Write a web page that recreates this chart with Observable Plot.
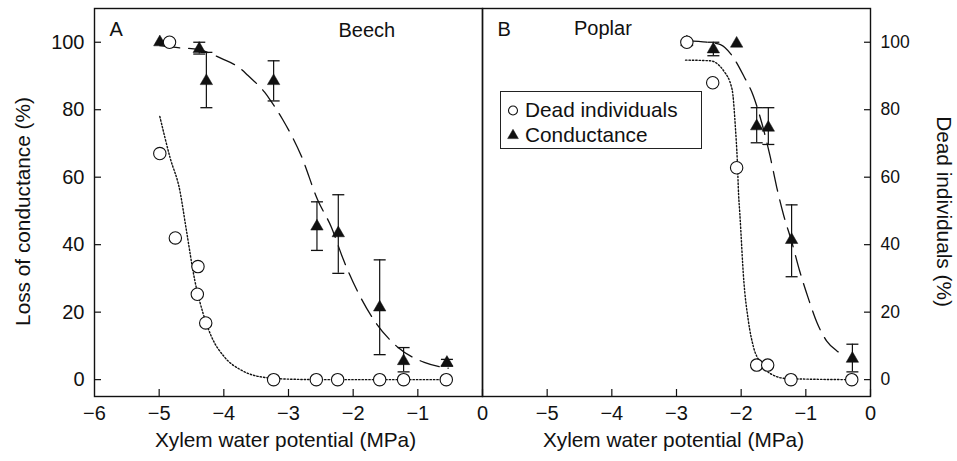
<!DOCTYPE html>
<html>
<head>
<meta charset="utf-8">
<script src="https://cdn.jsdelivr.net/npm/d3@7"></script>
<script src="https://cdn.jsdelivr.net/npm/@observablehq/plot@0.6"></script>
<style>
  body { margin: 0; background: #fff; }
  #wrap { position: relative; width: 957px; height: 461px; font-family: "Liberation Sans", Arial, Helvetica, sans-serif; }
  #legend { position: absolute; left: 500px; top: 91px; width: 202px; height: 58px; border: 1.3px solid #222; background: #fff; box-sizing: border-box; }
  #legend svg { display: block; }
</style>
</head>
<body>
<div id="wrap"></div>
<script>
// ---------- data ----------
const panels = ["A", "B"];
const species = ["Beech", "Poplar"];
const xTickValues = [-5, -4, -3, -2, -1, 0];
const xTickLabelsA = [-6, -5, -4, -3, -2, -1, 0];
const xTickLabelsB = [-5, -4, -3, -2, -1, 0];
const yTickValues = [0, 20, 40, 60, 80, 100];
const legendLabels = ["Dead individuals", "Conductance"];
const xTitle = "Xylem water potential (MPa)";
const yTitleLeft = "Loss of conductance (%)";
const yTitleRight = "Dead individuals (%)";

// Beech (panel A) – loss of conductance, mean with error bars
const beechCondX  = [-4.99, -4.38, -4.27, -3.23, -2.56, -2.23, -1.59, -1.22, -0.55];
const beechCondY  = [100, 98, 88.5, 88.5, 45.4, 43.4, 21.4, 5.5, 5];
const beechCondLo = [null, 96.5, 80.6, 82.6, 38.3, 31.5, 7.4, 2.3, 4];
const beechCondHi = [null, 100, 97, 94.5, 52.7, 54.8, 35.5, 9.5, 6];
// Beech – dead individuals
const beechDeadX = [-4.84, -4.99, -4.75, -4.40, -4.41, -4.28, -3.23, -2.57, -2.24, -1.59, -1.22, -0.56];
const beechDeadY = [100, 67, 42, 33.5, 25.3, 16.8, 0, 0, 0, 0, 0, 0];
// Beech – fitted curves
const beechCondCurveX = [-4.99, -4.66, -4.40, -4.19, -4.04, -3.73, -3.63, -3.37, -3.29, -3.09, -2.80, -2.55, -2.34, -2.15, -1.92, -1.68, -1.31, -0.90, -0.53];
const beechCondCurveY = [99, 98.3, 97.9, 96.5, 95.2, 92, 90.2, 85.2, 83.1, 77.1, 66.2, 53.3, 45.3, 35.5, 25.7, 17.7, 9.6, 5.1, 3.4];
const beechDeadCurveX = [-4.99, -4.83, -4.68, -4.58, -4.45, -4.32, -4.19, -3.99, -3.73, -3.42, -3.0, -2.5, -0.56];
const beechDeadCurveY = [78, 65.7, 56, 44.4, 29.5, 19.6, 12.7, 6.7, 2.8, 0.8, 0.15, 0, 0];

// Poplar (panel B)
const poplarCondX  = [-2.84, -2.43, -2.07, -1.76, -1.58, -1.22, -0.28];
const poplarCondY  = [100, 97.9, 99.6, 75.1, 74.7, 41.4, 6.2];
const poplarCondLo = [null, 96, null, 70.2, 69.7, 30.5, 2.3];
const poplarCondHi = [null, 100, null, 80.6, 80.6, 51.8, 10.5];
const poplarDeadX = [-2.84, -2.44, -2.07, -1.76, -1.59, -1.23, -0.29];
const poplarDeadY = [100, 88, 62.8, 4.3, 4.3, 0, 0];
const poplarCondCurveX = [-2.84, -2.53, -2.32, -2.14, -1.96, -1.81, -1.68, -1.55, -1.45, -1.34, -1.22, -1.10, -0.96, -0.83, -0.68, -0.52, -0.40];
const poplarCondCurveY = [100.5, 100, 99.3, 96, 90, 84, 76, 66, 57, 48.5, 41, 32.5, 24, 17, 11.5, 8.5, 7.2];
const poplarDeadCurveX = [-2.86, -2.48, -2.27, -2.14, -2.09, -2.06, -2.04, -2.02, -1.96, -1.89, -1.81, -1.71, -1.55, -1.29, -0.37];
const poplarDeadCurveY = [94.7, 94.5, 91.5, 86, 75, 65, 55, 49, 29.5, 17.6, 9.7, 5.2, 1.8, 0.3, 0];

// ---------- tables ----------
const pts = (panel, xs, ys, lo, hi) => xs.map((x, i) => ({panel, x, y: ys[i], lo: lo ? lo[i] : null, hi: hi ? hi[i] : null}));
const cond = [...pts("A", beechCondX, beechCondY, beechCondLo, beechCondHi), ...pts("B", poplarCondX, poplarCondY, poplarCondLo, poplarCondHi)];
const dead = [...pts("A", beechDeadX, beechDeadY), ...pts("B", poplarDeadX, poplarDeadY)];
const condCurve = [...pts("A", beechCondCurveX, beechCondCurveY), ...pts("B", poplarCondCurveX, poplarCondCurveY)];
const deadCurve = [...pts("A", beechDeadCurveX, beechDeadCurveY), ...pts("B", poplarDeadCurveX, poplarDeadCurveY)];
const errs = cond.filter(d => d.lo != null);
const caps = errs.flatMap(d => [{panel: d.panel, x: d.x, y: d.lo}, {panel: d.panel, x: d.x, y: d.hi}]);
const xLabels = [...xTickLabelsA.map(v => ({panel: "A", v})), ...xTickLabelsB.map(v => ({panel: "B", v}))];
const panelInfo = panels.map((p, i) => ({panel: p, name: species[i]}));

const capSymbol = { draw(ctx) { ctx.moveTo(-6, 0); ctx.lineTo(6, 0); } };
const fmt = v => v < 0 ? "\u2212" + Math.abs(v) : String(v);
const FONT = "Liberation Sans, Arial, Helvetica, sans-serif";
const INK = "#111";

const chart = Plot.plot({
  width: 957,
  height: 461,
  marginLeft: 93,
  marginRight: 87,
  marginTop: 8,
  marginBottom: 65,
  style: {fontFamily: FONT, fontSize: "20px", color: INK, background: "#fff"},
  fx: {domain: panels, padding: 0, axis: null, label: null},
  x: {domain: [-6, 0]},
  y: {domain: [-5, 110]},
  marks: [
    Plot.frame({stroke: INK, strokeWidth: 1.4}),
    Plot.axisX({ticks: xTickValues, tickSize: -7, tickFormat: () => "", label: null, stroke: INK, strokeWidth: 1.2}),
    Plot.text(xLabels, {fx: "panel", x: "v", text: d => fmt(d.v), frameAnchor: "bottom", lineAnchor: "top", dy: 9.5, fontSize: 20, fill: INK}),
    Plot.axisY({ticks: yTickValues, anchor: "left", tickSize: -7, tickPadding: 17, label: null, fontSize: 20, stroke: INK, strokeWidth: 1.2}),
    Plot.axisY({ticks: yTickValues, anchor: "right", tickSize: -7, tickPadding: 17, label: null, fontSize: 17.5, stroke: INK, strokeWidth: 1.2}),
    Plot.text([xTitle], {frameAnchor: "bottom", lineAnchor: "bottom", dy: 50.5, dx: -3, fontSize: 20.8, fill: INK}),
    Plot.text([{panel: "A", t: yTitleLeft}], {fx: "panel", text: "t", frameAnchor: "left", textAnchor: "middle", rotate: -90, dx: -71, dy: 9, lineAnchor: "middle", fontSize: 20.8, fill: INK}),
    Plot.text([{panel: "B", t: yTitleRight}], {fx: "panel", text: "t", frameAnchor: "right", textAnchor: "middle", rotate: 90, dx: 73, dy: 9, lineAnchor: "middle", fontSize: 20.8, fill: INK}),
    Plot.text(panelInfo, {fx: "panel", text: "panel", frameAnchor: "top-left", textAnchor: "start", lineAnchor: "bottom", dx: 15, dy: 27, fontSize: 20, fill: INK}),
    Plot.text(panelInfo.filter(d => d.panel === "A"), {fx: "panel", text: "name", frameAnchor: "top-left", textAnchor: "start", lineAnchor: "bottom", dx: 244, dy: 28, fontSize: 20, fill: INK}),
    Plot.text(panelInfo.filter(d => d.panel === "B"), {fx: "panel", text: "name", frameAnchor: "top-left", textAnchor: "start", lineAnchor: "bottom", dx: 91.5, dy: 26, fontSize: 20, fill: INK}),
    Plot.line(deadCurve, {fx: "panel", x: "x", y: "y", z: "panel", stroke: INK, strokeWidth: 1.4, strokeDasharray: "1.4,2", curve: "monotone-x"}),
    Plot.line(condCurve, {fx: "panel", x: "x", y: "y", z: "panel", stroke: INK, strokeWidth: 1.3, strokeDasharray: "20,9", curve: "monotone-x"}),
    Plot.ruleX(errs, {fx: "panel", x: "x", y1: "lo", y2: "hi", stroke: INK, strokeWidth: 1.2}),
    Plot.dot(caps, {fx: "panel", x: "x", y: "y", symbol: capSymbol, r: 5, stroke: INK, strokeWidth: 1.3, fill: "none"}),
    Plot.dot(cond, {fx: "panel", x: "x", y: "y", symbol: "triangle", r: 4.6, fill: INK, stroke: INK, strokeWidth: 0.5}),
    Plot.dot(dead, {fx: "panel", x: "x", y: "y", symbol: "circle", r: 6.2, fill: "#fff", stroke: INK, strokeWidth: 1.1})
  ]
});

const wrap = document.getElementById("wrap");
wrap.appendChild(chart);

// legend (HTML overlay, panel B)
const legend = document.createElement("div");
legend.id = "legend";
const ns = "http://www.w3.org/2000/svg";
const lsvg = document.createElementNS(ns, "svg");
lsvg.setAttribute("width", 200);
lsvg.setAttribute("height", 56);
const syms = [
  d3.symbol(d3.symbolCircle, Math.PI * 4.5 * 4.5)(),
  d3.symbol(d3.symbolTriangle, Math.PI * 4 * 4)()
];
legendLabels.forEach((lab, i) => {
  const cy = 18.5 + i * 25;
  const p = document.createElementNS(ns, "path");
  p.setAttribute("d", syms[i]);
  p.setAttribute("transform", `translate(12,${cy})`);
  p.setAttribute("fill", i === 0 ? "#fff" : INK);
  p.setAttribute("stroke", INK);
  p.setAttribute("stroke-width", i === 0 ? 1.1 : 0.5);
  lsvg.appendChild(p);
  const t = document.createElementNS(ns, "text");
  t.setAttribute("x", 24);
  t.setAttribute("y", cy + 6.5);
  t.setAttribute("font-size", 20.8);
  t.setAttribute("font-family", FONT);
  t.setAttribute("fill", INK);
  t.textContent = lab;
  lsvg.appendChild(t);
});
legend.appendChild(lsvg);
wrap.appendChild(legend);
</script>
</body>
</html>
